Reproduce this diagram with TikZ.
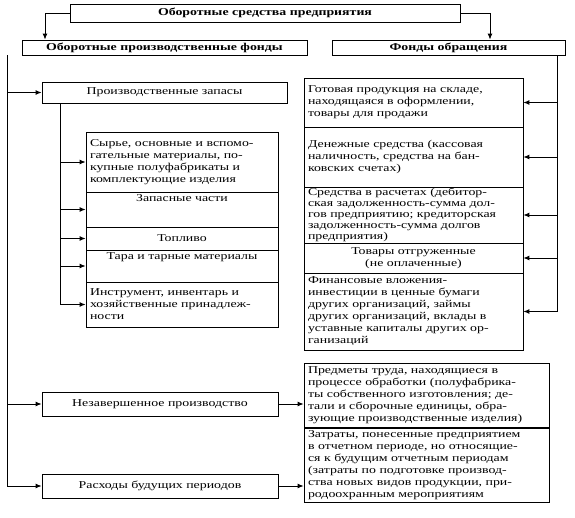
\documentclass[tikz,border=0pt]{standalone}
\usepackage{fontspec}
\setmainfont[FakeStretch=1.32]{Liberation Serif}
\usetikzlibrary{arrows.meta}

\begin{document}
\begin{tikzpicture}[
    x=1pt, y=-1pt,
    blk/.style={draw, line width=0.8pt, inner sep=0pt, align=center, font=\fontsize{10.5}{12}\selectfont},
    head/.style={blk, font=\fontsize{10.5}{12}\selectfont\bfseries},
    txt/.style={blk, align=left, text width=#1, inner xsep=4pt},
    conn/.style={line width=0.9pt, -{Latex[length=6pt,width=5pt]}}
]
    \useasboundingbox (0,0) rectangle (575,518);

    % Top levels
    \node[head, minimum width=390pt, minimum height=18pt] (osp) at (265,13) {Оборотные средства предприятия};
    \node[head, minimum width=285pt, minimum height=15pt] (ofond) at (164.5,47.5) {Оборотные производственные фонды};
    \node[head, minimum width=233pt, minimum height=15pt] (fobr) at (448.5,47.5) {Фонды обращения};

    % Production assets
    \node[blk, minimum width=245pt, minimum height=21pt] (zap) at (164.5,92.5) {Производственные запасы};
    \node[txt=184pt, minimum height=60pt] (syr) at (182,162) {Сырье, основные и вспомо-\\гательные материалы, по-\\купные полуфабрикаты и\\комплектующие изделия};
    \node[blk, minimum width=192pt, minimum height=35pt] (zch) at (182,209.5) {Запасные части\\[10pt]};
    \node[blk, minimum width=192pt, minimum height=23pt] (topl) at (182,238.5) {Топливо};
    \node[blk, minimum width=192pt, minimum height=32pt] (tara) at (182,266) {Тара и тарные материалы\\[8pt]};
    \node[txt=184pt, minimum height=45pt] (instr) at (182,304.5) {Инструмент, инвентарь и\\хозяйственные принадлеж-\\ности};
    \node[blk, minimum width=236pt, minimum height=24pt] (nez) at (160,404) {Незавершенное производство};
    \node[blk, minimum width=236pt, minimum height=24pt] (rbp) at (160,486) {Расходы будущих периодов};

    % Circulation funds
    \node[txt=211pt, minimum height=49pt] (gp) at (413.5,102.5) {Готовая продукция на складе,\\находящаяся в оформлении,\\товары для продажи};
    \node[txt=211pt, minimum height=60pt] (ds) at (413.5,157) {Денежные средства (кассовая\\наличность, средства на бан-\\ковских счетах)\\[8pt]};
    \node[txt=211pt, minimum height=56pt, font=\fontsize{10.5}{11}\selectfont] (sr) at (413.5,215) {Средства в расчетах (дебитор-\\ская задолженность-сумма дол-\\гов предприятию; кредиторская\\задолженность-сумма долгов\\предприятия)};
    \node[blk, minimum width=219pt, minimum height=30pt] (tov) at (413.5,258) {Товары отгруженные\\(не оплаченные)};
    \node[txt=211pt, minimum height=77pt] (fin) at (413.5,311.5) {Финансовые вложения-\\инвестиции в ценные бумаги\\других организаций, займы\\других организаций, вклады в\\уставные капиталы других ор-\\ганизаций};
    \node[txt=237pt, minimum height=64pt] (pred) at (426.5,395) {Предметы труда, находящиеся в\\процессе обработки (полуфабрика-\\ты собственного изготовления; де-\\тали и сборочные единицы, обра-\\зующие производственные изделия)};
    \node[txt=237pt, minimum height=74pt] (zatr) at (426.5,465) {Затраты, понесенные предприятием\\в отчетном периоде, но относящие-\\ся к будущим отчетным периодам\\(затраты по подготовке производ-\\ства новых видов продукции, при-\\родоохранным мероприятиям};

    % Connectors
    \draw[conn] (osp.west) -| ([xshift=-119.5pt]ofond.north);
    \draw[conn] (osp.east) -| ([xshift=41.5pt]fobr.north);
    \coordinate (lbus) at ([xshift=-14pt]ofond.south west);
    \coordinate (zbus) at ([xshift=-104.5pt]zap.south);
    \coordinate (rbus) at ([xshift=108.5pt]fobr.south);
    \foreach \n in {zap,nez,rbp} \draw[conn] (lbus) |- (\n.west);
    \foreach \n in {syr,zch,topl,tara,instr} \draw[conn] (zbus) |- (\n.west);
    \foreach \n in {gp,ds,sr,tov,fin} \draw[conn] (rbus) |- (\n.east);
    \draw[conn] (nez.east) -- (nez.east -| pred.west);
    \draw[conn] (rbp.east) -- (rbp.east -| zatr.west);
\end{tikzpicture}
\end{document}
